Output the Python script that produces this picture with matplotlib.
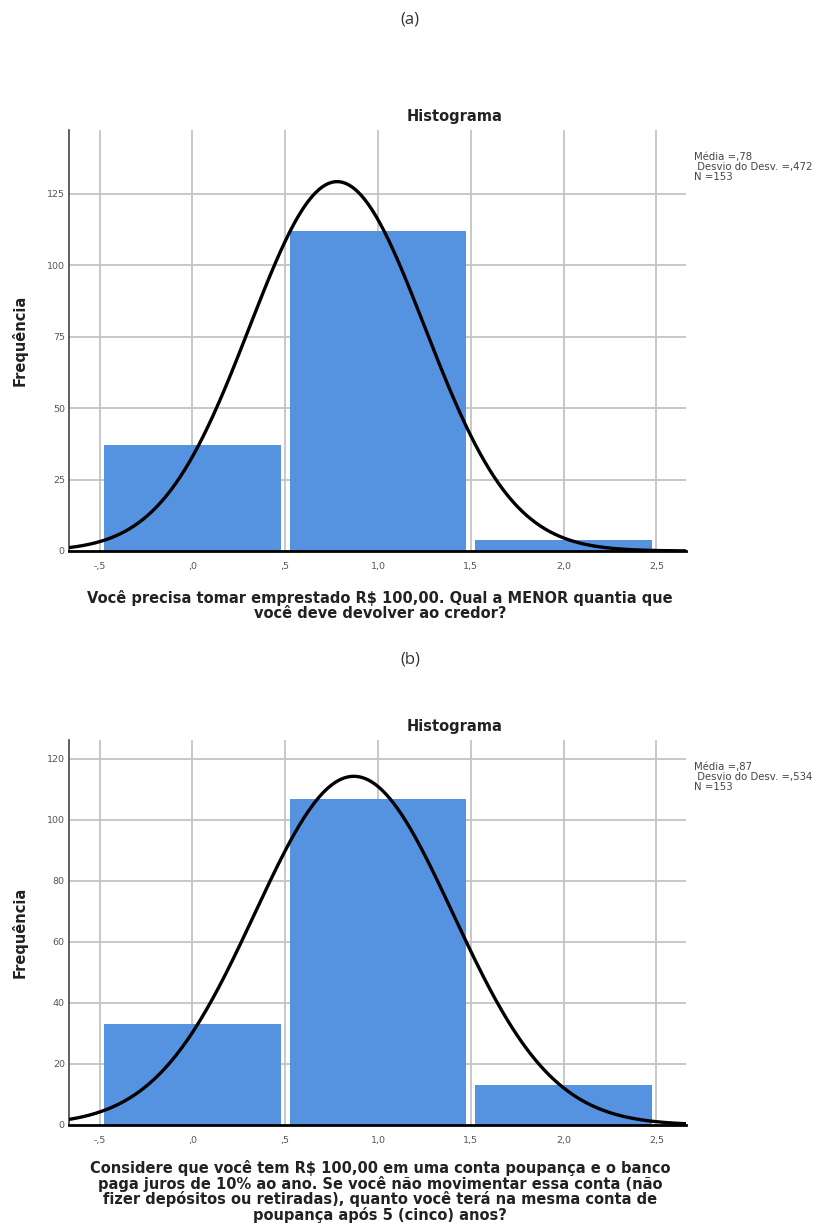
import numpy as np
import matplotlib
matplotlib.use("Agg")
import matplotlib.pyplot as plt

plt.rcParams['font.family'] = ['DejaVu Sans']

# dados
centros = [0, 1, 2]
freq_a = [37, 112, 4]
freq_b = [33, 107, 13]
media_a, desvio_a, n_a = 0.78, 0.472, 153
media_b, desvio_b, n_b = 0.87, 0.534, 153

xticks = [-0.5, 0.0, 0.5, 1.0, 1.5, 2.0, 2.5]
xticklabels = ['-,5', ',0', ',5', '1,0', '1,5', '2,0', '2,5']
yticks_a = [0, 25, 50, 75, 100, 125]
yticks_b = [0, 20, 40, 60, 80, 100, 120]

rotulo_a = "Você precisa tomar emprestado R$ 100,00. Qual a MENOR quantia que\nvocê deve devolver ao credor?"
rotulo_b = ("Considere que você tem R$ 100,00 em uma conta poupança e o banco\n"
            "paga juros de 10% ao ano. Se você não movimentar essa conta (não\n"
            "fizer depósitos ou retiradas), quanto você terá na mesma conta de\n"
            "poupança após 5 (cinco) anos?")

W, H = 821, 1232
fig = plt.figure(figsize=(W / 100, H / 100), dpi=100)
azul = '#5592e0'


def px(x, y):
    return x / W, 1 - y / H


def painel(top, bottom, freq, media, desvio, n, yticks, ymax, rotulo, ylab_y, xl_y, tit_y, stat_y):
    ax = fig.add_axes([69 / W, 1 - bottom / H, (686 - 69) / W, (bottom - top) / H])
    ax.set_xlim(-0.665, 2.66)
    ax.set_ylim(0, ymax)
    for xv in xticks:
        ax.axvline(xv, color='#c4c4c4', lw=1.3, zorder=0)
    for yv in yticks[1:]:
        ax.axhline(yv, color='#c4c4c4', lw=1.3, zorder=0)
    ax.bar(centros, freq, width=0.95, color=azul, zorder=2)
    # curva normal com a média e desvio mostrados
    xs = np.linspace(-0.665, 2.66, 400)
    ys = n * np.exp(-0.5 * ((xs - media) / desvio) ** 2) / (desvio * np.sqrt(2 * np.pi))
    ax.plot(xs, ys, color='black', lw=2.4, zorder=3)
    ax.set_xticks(xticks)
    ax.set_xticklabels(xticklabels)
    ax.set_yticks(yticks)
    ax.tick_params(length=0, labelsize=6.8, labelcolor='#555555')
    ax.tick_params(axis='y', pad=3)
    ax.tick_params(axis='x', pad=8)
    for s in ['top', 'right']:
        ax.spines[s].set_visible(False)
    ax.spines['left'].set_color('#444444')
    ax.spines['left'].set_linewidth(1.2)
    ax.spines['bottom'].set_color('black')
    ax.spines['bottom'].set_linewidth(2)
    ax.spines['bottom'].set_zorder(4)

    fig.text(*px(20, ylab_y), 'Frequência', rotation=90, ha='center', va='center',
             fontsize=10.5, fontweight='bold', color='#222222')
    fig.text(*px(380, xl_y), rotulo, ha='center', va='top', fontsize=10.5,
             fontweight='bold', color='#222222', linespacing=0.97)
    fig.text(*px(455, tit_y), 'Histograma', ha='center', va='center',
             fontsize=10.5, fontweight='bold', color='#222222')
    stats = 'Média =,%s\n Desvio do Desv. =,%s\nN =%d' % (
        str(media).split('.')[1], str(desvio).split('.')[1], n)
    fig.text(*px(694, stat_y), stats, ha='left', va='top', fontsize=7.3,
             color='#444444', linespacing=1.0)
    return ax


painel(130, 551, freq_a, media_a, desvio_a, n_a, yticks_a, 147.4, rotulo_a,
       340, 590, 117, 152)
painel(740, 1125, freq_b, media_b, desvio_b, n_b, yticks_b, 126.2, rotulo_b,
       932, 1160, 727, 762)

fig.text(*px(410, 20), '(a)', ha='center', va='center', fontsize=12, color='#333333',
         family=['Open Sans', 'DejaVu Sans'])
fig.text(*px(410, 660), '(b)', ha='center', va='center', fontsize=12, color='#333333',
         family=['Open Sans', 'DejaVu Sans'])

fig.savefig('out.png', dpi=100)
